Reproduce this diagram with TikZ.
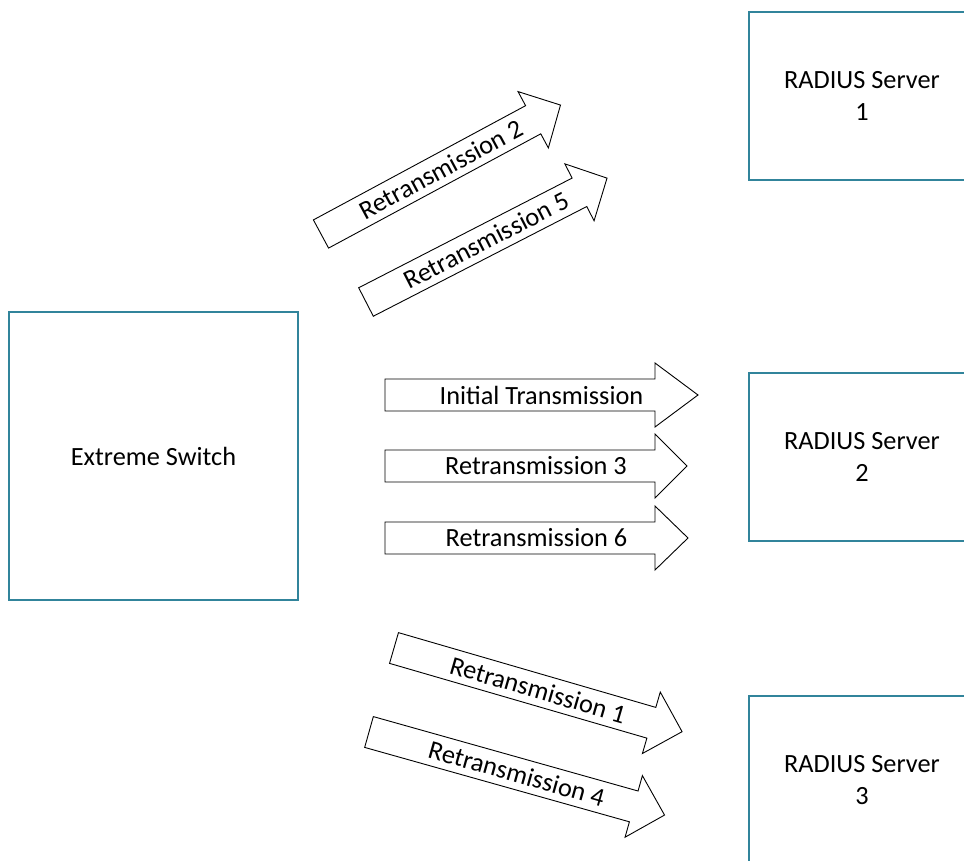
\documentclass[tikz,border=0pt]{standalone}
\usepackage{fontspec}
\setmainfont{Carlito}
\definecolor{boxteal}{HTML}{31849B}
\newcommand\fatarrow[7]{%
  \begin{scope}[shift={(#2,#3)},rotate=#4]
    \draw[arrowshape] (0,-16) -- ({#5-#6},-16) -- ({#5-#6},-32) -- (#5,0)
      -- ({#5-#6},32) -- ({#5-#6},16) -- (0,16) -- cycle;
    \node[arrowtext,rotate=#4] (#1) at ({#5/2},0) {#7};
  \end{scope}}
\begin{document}
\begin{tikzpicture}[x=1pt,y=-1pt,
  every node/.style={font=\fontsize{26.3}{32}\selectfont},
  devbox/.style={draw=boxteal,line width=2.4pt,fill=white,align=center,inner sep=0pt},
  arrowshape/.style={draw=black,line width=0.9pt,fill=white,line join=miter},
  arrowtext/.style={inner sep=0pt}]
\clip (0,0) rectangle (964,861);
\fill[white] (0,0) rectangle (964,861);
% devices
\node[devbox,minimum width=289pt,minimum height=288pt] (sw) at (153.5,456) {Extreme Switch};
\node[devbox,minimum width=226pt,minimum height=168pt] (r1) at (862,96) {RADIUS Server\\1};
\node[devbox,minimum width=226pt,minimum height=168pt] (r2) at (862,457) {RADIUS Server\\2};
\node[devbox,minimum width=226pt,minimum height=168pt] (r3) at (862,780) {RADIUS Server\\3};
% arrows
\fatarrow{a2}{321}{234}{28.3}{272}{31}{Retransmission 2}
\fatarrow{a5}{366}{302}{27.2}{271}{31}{Retransmission 5}
\fatarrow{a0}{385}{395}{0}{313}{43}{Initial Transmission}
\fatarrow{a3}{385}{466}{0}{302}{32}{Retransmission 3}
\fatarrow{a6}{385}{538}{0}{303}{33}{Retransmission 6}
\fatarrow{a1}{394}{648}{-16.2}{300}{32}{Retransmission 1}
\fatarrow{a4}{369}{732}{-15.7}{307}{32}{Retransmission 4}
\end{tikzpicture}
\end{document}
